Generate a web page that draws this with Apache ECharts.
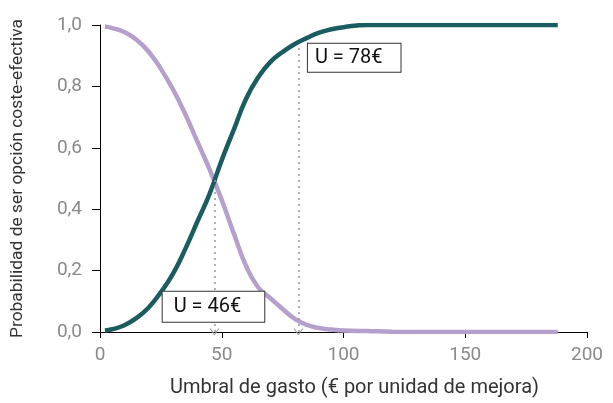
<!DOCTYPE html>
<html>
<head>
<meta charset="utf-8">
<script src="https://cdn.jsdelivr.net/npm/echarts@6/dist/echarts.min.js"></script>
<style>
  html, body { margin: 0; padding: 0; background: #fff; }
  #chart { width: 613px; height: 403px; }
</style>
</head>
<body>
<div id="chart"></div>
<script>
// umbral de gasto (€ por unidad de mejora)
const umbral = [2, 5, 10, 15, 20, 25, 30, 35, 40, 45, 50, 55, 60, 65, 70, 75, 80, 85, 90, 95, 100, 110, 120, 140, 160, 188];
// probabilidad, opción morada (decreciente)
const probMorada = [0.995, 0.99, 0.977, 0.952, 0.913, 0.857, 0.79, 0.71, 0.62, 0.53, 0.43, 0.32, 0.215, 0.145, 0.11, 0.075, 0.043, 0.023, 0.013, 0.008, 0.005, 0.003, 0.001, 0, 0, 0];
// probabilidad, opción verde (creciente)
const probVerde = [0.005, 0.009, 0.022, 0.046, 0.08, 0.13, 0.19, 0.27, 0.36, 0.45, 0.56, 0.66, 0.76, 0.83, 0.88, 0.912, 0.938, 0.958, 0.975, 0.986, 0.993, 1.0, 1.0, 1.0, 1.0, 1.0];
// líneas de referencia: [x, altura]
const refLines = [[47, 0.5], [81.5, 0.935]];
// etiquetas: [texto, x, y]
const refLabels = [["U = 46€", 46.6, 0.082], ["U = 78€", 104.4, 0.893]];

const chevron = "path://M0,7 L5,0 L10,7 L8.8,7 L5,1.7 L1.2,7 Z";
const FONT = "Roboto";

const chart = echarts.init(document.getElementById("chart"));

const option = {
  animation: false,
  textStyle: { fontFamily: FONT },
  grid: { left: 100, right: 26, top: 25, bottom: 71, outerBoundsMode: "none" },
  xAxis: {
    type: "value",
    min: 0,
    max: 200,
    interval: 50,
    name: "Umbral de gasto (€ por unidad de mejora)",
    nameLocation: "middle",
    nameGap: 46,
    nameTextStyle: { fontSize: 20, color: "#333", fontFamily: FONT, padding: [0, 0, 0, 22] },
    axisLine: { lineStyle: { color: "#000", width: 1 } },
    axisTick: { length: 6, lineStyle: { color: "#000" } },
    axisLabel: { fontSize: 19, color: "#8a8a8a", margin: 14, fontFamily: FONT },
    splitLine: { show: false },
  },
  yAxis: {
    type: "value",
    min: 0,
    max: 1,
    interval: 0.2,
    name: "Probabilidad de ser opción coste-efectiva",
    nameLocation: "middle",
    nameGap: 74,
    nameTextStyle: { fontSize: 17.4, color: "#333", fontFamily: FONT },
    axisLine: { show: true, lineStyle: { color: "#000", width: 1 } },
    axisTick: { show: true, length: 8, lineStyle: { color: "#000" } },
    axisLabel: {
      fontSize: 19,
      color: "#8a8a8a",
      margin: 18,
      fontFamily: FONT,
      formatter: (v) => v.toFixed(1).replace(".", ","),
    },
    splitLine: { show: false },
  },
  series: [
    {
      name: "Morada",
      type: "line",
      smooth: true,
      showSymbol: false,
      data: umbral.map((u, i) => [u, probMorada[i]]),
      lineStyle: { color: "#b59fcd", width: 4.5 },
      itemStyle: { color: "#b59fcd" },
      markLine: {
        silent: true,
        symbol: [chevron, "none"],
        symbolSize: [10, 7],
        label: { show: false },
        lineStyle: { color: "#999", type: [2, 4], width: 1.5 },
        itemStyle: { color: "#999" },
        data: refLines.map((r) => [{ coord: [r[0], 0] }, { coord: [r[0], r[1]] }]),
      },
    },
    {
      name: "Verde",
      type: "line",
      smooth: true,
      showSymbol: false,
      data: umbral.map((u, i) => [u, probVerde[i]]),
      lineStyle: { color: "#1b5c61", width: 4.5 },
      itemStyle: { color: "#1b5c61" },
      markPoint: {
        silent: true,
        symbol: "rect",
        symbolSize: 0,
        data: refLabels.map((l, i) => ({
          coord: [l[1], l[2]],
          label: {
            show: true,
            position: "inside",
            formatter: l[0],
            fontSize: 20,
            lineHeight: 22,
            color: "#111",
            fontFamily: FONT,
            backgroundColor: "#fff",
            borderColor: "#333",
            borderWidth: 1,
            padding: i === 0 ? [4, 23, 4, 11] : [3, 18, 3, 7],
          },
        })),
      },
    },
  ],
};

chart.setOption(option);
</script>
</body>
</html>
